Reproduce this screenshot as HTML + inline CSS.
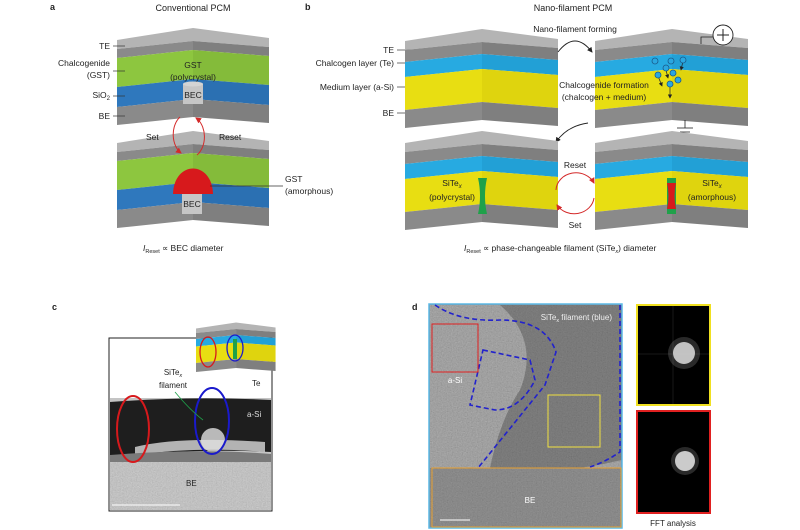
<!DOCTYPE html>
<html><head><meta charset="utf-8"><style>
html,body{margin:0;padding:0;background:#fff;width:800px;height:530px;overflow:hidden}
svg{display:block}
text{font-family:"Liberation Sans",Arial,sans-serif;fill:#222}
</style></head><body>
<svg width="800" height="530" viewBox="0 0 800 530" xmlns="http://www.w3.org/2000/svg">
<defs>
<g id="blkA">
  <polygon points="0,0 0,-9 76,-21 152,-11 152,-2 76,-8" fill="#b4b4b4"/>
  <polygon points="0,0 76,-8 76,1 0,9" fill="#8a8a8a"/>
  <polygon points="0,9 76,1 76,30 0,38" fill="#8dc63f"/>
  <polygon points="0,38 76,30 76,50 0,58" fill="#2f78bd"/>
  <polygon points="0,58 76,50 76,68 0,76" fill="#8a8a8a"/>
  <polygon points="76,-8 152,-2 152,7 76,1" fill="#7f7f7f"/>
  <polygon points="76,1 152,7 152,36 76,30" fill="#84bb3a"/>
  <polygon points="76,30 152,36 152,56 76,50" fill="#2b70b2"/>
  <polygon points="76,50 152,56 152,74 76,68" fill="#7f7f7f"/>
</g>
<g id="blkB">
  <polygon points="0,0 0,-9 77,-21 153,-11 153,-2 77,-8" fill="#b4b4b4"/>
  <polygon points="0,0 77,-8 77,4 0,12" fill="#8a8a8a"/>
  <polygon points="0,12 77,4 77,19 0,27" fill="#27aae1"/>
  <polygon points="0,27 77,19 77,52 0,60" fill="#e8de12"/>
  <polygon points="0,60 77,52 77,70 0,78" fill="#8a8a8a"/>
  <polygon points="77,-8 153,-2 153,10 77,4" fill="#7f7f7f"/>
  <polygon points="77,4 153,10 153,25 77,19" fill="#22a0d6"/>
  <polygon points="77,19 153,25 153,58 77,52" fill="#dfd40e"/>
  <polygon points="77,52 153,58 153,76 77,70" fill="#7f7f7f"/>
</g>
<marker id="ar" markerWidth="6" markerHeight="6" refX="5" refY="3" orient="auto"><path d="M0,0 L6,3 L0,6 z" fill="#222"/></marker>
<marker id="arr" markerWidth="6" markerHeight="6" refX="5" refY="3" orient="auto"><path d="M0,0 L6,3 L0,6 z" fill="#d42a2a"/></marker>
<filter id="nz" x="0" y="0" width="1" height="1" filterUnits="objectBoundingBox">
  <feTurbulence type="fractalNoise" baseFrequency="0.8" numOctaves="2" seed="3" result="t"/>
  <feColorMatrix in="t" type="matrix" values="0.33 0.33 0.33 0 0  0.33 0.33 0.33 0 0  0.33 0.33 0.33 0 0  0 0 0 0 1" result="g"/>
  <feComposite in="g" in2="SourceGraphic" operator="in"/>
</filter>
</defs>

<!-- Panel a -->
<text x="50" y="10" font-size="9" font-weight="bold">a</text>
<text x="193" y="11" font-size="9" text-anchor="middle">Conventional PCM</text>
<use href="#blkA" x="117" y="49"/>
<rect x="183" y="84" width="20" height="20" fill="#c6c6c6"/>
<ellipse cx="193" cy="84" rx="10" ry="2.5" fill="#d4d4d4"/>
<text x="193" y="68" font-size="8.5" text-anchor="middle">GST</text>
<text x="193" y="80" font-size="8.5" text-anchor="middle">(polycrystal)</text>
<text x="193" y="98" font-size="8.5" text-anchor="middle">BEC</text>
<g font-size="8.5" text-anchor="end">
<text x="110" y="49">TE</text>
<text x="110" y="66">Chalcogenide</text>
<text x="110" y="78">(GST)</text>
<text x="110" y="98">SiO<tspan font-size="6" dy="2">2</tspan></text>
<text x="110" y="119">BE</text>
</g>
<g stroke="#333" stroke-width="0.7">
<line x1="113" y1="46" x2="125" y2="46"/><line x1="113" y1="71" x2="125" y2="71"/>
<line x1="113" y1="96" x2="125" y2="96"/><line x1="113" y1="116" x2="125" y2="116"/>
</g>
<use href="#blkA" x="117" y="152"/>
<path d="M173,194 C174,160 212,160 213,194 Z" fill="#d7191c"/>
<rect x="182" y="194" width="20" height="20" fill="#c6c6c6"/>
<text x="192" y="207" font-size="8.5" text-anchor="middle">BEC</text>
<line x1="210" y1="186" x2="283" y2="186" stroke="#333" stroke-width="0.7"/>
<text x="285" y="182" font-size="8.5">GST</text>
<text x="285" y="194" font-size="8.5">(amorphous)</text>
<text x="146" y="140" font-size="8.5">Set</text>
<text x="219" y="140" font-size="8.5">Reset</text>
<path d="M180,117 A15,21 0 0,0 181,153" fill="none" stroke="#d42a2a" stroke-width="1" marker-end="url(#arr)"/>
<path d="M197,155 A15,21 0 0,0 196,118" fill="none" stroke="#d42a2a" stroke-width="1" marker-end="url(#arr)"/>
<text x="143" y="251" font-size="8.5"><tspan font-style="italic">I</tspan><tspan font-size="5.5" dy="2">Reset</tspan><tspan dy="-2"> ∝ BEC diameter</tspan></text>

<!-- Panel b -->
<text x="305" y="10" font-size="9" font-weight="bold">b</text>
<text x="573" y="11" font-size="9" text-anchor="middle">Nano-filament PCM</text>
<text x="575" y="32" font-size="8.5" text-anchor="middle">Nano-filament forming</text>
<g font-size="8.5" text-anchor="end">
<text x="394" y="53">TE</text>
<text x="394" y="66">Chalcogen layer (Te)</text>
<text x="394" y="90">Medium layer (a-Si)</text>
<text x="394" y="116">BE</text>
</g>
<g stroke="#333" stroke-width="0.7">
<line x1="397" y1="50" x2="410" y2="50"/><line x1="397" y1="63" x2="410" y2="63"/>
<line x1="397" y1="87" x2="410" y2="87"/><line x1="397" y1="113" x2="410" y2="113"/>
</g>
<use href="#blkB" x="405" y="50"/>
<use href="#blkB" x="595" y="50"/>
<path d="M558,52 Q575,30 592,52" fill="none" stroke="#222" stroke-width="0.9" marker-end="url(#ar)"/>
<path d="M588,123 Q567,126 556,142" fill="none" stroke="#222" stroke-width="0.9" marker-end="url(#ar)"/>
<text x="604" y="88" font-size="8.5" text-anchor="middle">Chalcogenide formation</text>
<text x="604" y="100" font-size="8.5" text-anchor="middle">(chalcogen + medium)</text>
<g stroke="#222" stroke-width="0.7" marker-end="url(#ar)">
<line x1="666" y1="70" x2="668" y2="78"/><line x1="658" y1="76" x2="662" y2="86"/>
<line x1="670" y1="86" x2="670" y2="98"/><line x1="683" y1="61" x2="681" y2="70"/>
</g>
<g fill="#2aa7e0" stroke="#1b5a8a" stroke-width="0.8">
<circle cx="655" cy="61" r="3"/><circle cx="671" cy="61" r="3"/><circle cx="683" cy="60" r="3"/>
<circle cx="666" cy="68" r="3"/><circle cx="658" cy="75" r="3"/><circle cx="673" cy="73" r="3"/>
<circle cx="678" cy="80" r="3"/><circle cx="670" cy="84" r="3"/>
</g>
<circle cx="723" cy="35" r="10" fill="#fff" stroke="#222" stroke-width="0.9"/>
<line x1="717" y1="35" x2="729" y2="35" stroke="#222"/><line x1="723" y1="29" x2="723" y2="41" stroke="#222"/>
<polyline points="701,44 701,37 713,37" fill="none" stroke="#222" stroke-width="0.8"/>
<g stroke="#222" stroke-width="0.8">
<line x1="685" y1="120" x2="685" y2="128"/><line x1="677" y1="128" x2="693" y2="128"/>
<line x1="680" y1="132" x2="690" y2="132"/><line x1="683" y1="136" x2="687" y2="136"/>
</g>
<use href="#blkB" x="405" y="152"/>
<use href="#blkB" x="595" y="152"/>
<path d="M478,178 L487,178 Q483,196 487,214 L478,214 Q482,196 478,178 Z" fill="#1fa14a"/>
<rect x="667" y="178" width="9" height="36" fill="#1fa14a"/>
<path d="M667,183 L676,183 Q673,196 676,209 L667,209 Q670,196 667,183 Z" fill="#d7191c"/>
<text x="452" y="186" font-size="8.5" text-anchor="middle">SiTe<tspan font-size="6" dy="2" font-style="italic">x</tspan></text>
<text x="452" y="200" font-size="8.5" text-anchor="middle">(polycrystal)</text>
<text x="712" y="186" font-size="8.5" text-anchor="middle">SiTe<tspan font-size="6" dy="2" font-style="italic">x</tspan></text>
<text x="712" y="200" font-size="8.5" text-anchor="middle">(amorphous)</text>
<text x="575" y="168" font-size="8.5" text-anchor="middle">Reset</text>
<text x="575" y="228" font-size="8.5" text-anchor="middle">Set</text>
<path d="M556,190 A20,18 0 0,1 594,183" fill="none" stroke="#d42a2a" stroke-width="1" marker-end="url(#arr)"/>
<path d="M594,198 A20,18 0 0,1 557,205" fill="none" stroke="#d42a2a" stroke-width="1" marker-end="url(#arr)"/>
<text x="464" y="251" font-size="8.5"><tspan font-style="italic">I</tspan><tspan font-size="5.5" dy="2">Reset</tspan><tspan dy="-2"> ∝ phase-changeable filament (SiTe</tspan><tspan font-size="5.5" dy="2" font-style="italic">x</tspan><tspan dy="-2">) diameter</tspan></text>

<!-- Panel c -->
<text x="52" y="310" font-size="9" font-weight="bold">c</text>
<rect x="109" y="338" width="163" height="173" fill="#fff" stroke="#222" stroke-width="1"/>
<rect x="110" y="398" width="161" height="112" fill="#c4c4c4"/>
<rect x="110" y="458" width="161" height="52" fill="#000" filter="url(#nz)" opacity="0.35"/>
<path d="M110,402 Q190,396 271,400 L271,452 Q200,448 110,457 Z" fill="#1e1e1e"/>
<path d="M135,447 Q180,436 265,442 L265,452 Q200,446 135,455 Z" fill="#d8d8d8" opacity="0.8"/>
<ellipse cx="213" cy="440" rx="12" ry="12" fill="#e0e0e0" opacity="0.8"/>
<path d="M110,455 Q200,448 271,454 L271,462 L110,462 Z" fill="#7a7a7a"/>
<line x1="112" y1="505" x2="180" y2="505" stroke="#fff" stroke-width="1"/>
<ellipse cx="133" cy="429" rx="16" ry="33" fill="none" stroke="#d7191c" stroke-width="2"/>
<ellipse cx="212" cy="421" rx="17" ry="33" fill="none" stroke="#1a1acc" stroke-width="2"/>
<path d="M175,392 Q190,410 203,420" fill="none" stroke="#1fa14a" stroke-width="0.8"/>
<text x="173" y="375" font-size="8" text-anchor="middle">SiTe<tspan font-size="5.5" dy="2" font-style="italic">x</tspan></text>
<text x="173" y="388" font-size="8" text-anchor="middle">filament</text>
<text x="252" y="386" font-size="8">Te</text>
<text x="247" y="417" font-size="8" style="fill:#ddd">a-Si</text>
<text x="186" y="486" font-size="8">BE</text>
<g transform="translate(196,333) scale(0.52,0.5)">
<use href="#blkB" x="0" y="0"/>
</g>
<rect x="233" y="339" width="4" height="20" fill="#1fa14a"/>
<ellipse cx="208" cy="352" rx="8" ry="15" fill="none" stroke="#d7191c" stroke-width="1.3"/>
<ellipse cx="235" cy="348" rx="8" ry="13" fill="none" stroke="#1a1acc" stroke-width="1.3"/>

<!-- Panel d -->
<text x="412" y="310" font-size="9" font-weight="bold">d</text>
<rect x="429" y="304" width="193" height="224" fill="#8a8a8a"/>
<rect x="430" y="305" width="191" height="222" fill="#000" filter="url(#nz)" opacity="0.55"/>
<rect x="430" y="305" width="191" height="222" fill="#999" opacity="0.35"/>
<path d="M500,305 L622,305 L622,460 Q600,465 580,468 L490,468 Q500,420 520,390 Q540,340 500,305 Z" fill="#333" opacity="0.35"/>
<rect x="430" y="468" width="191" height="59" fill="#444" opacity="0.25"/>
<rect x="429" y="304" width="193" height="224" fill="none" stroke="#5ab8e6" stroke-width="1.5"/>
<path d="M435,305 Q460,322 500,320 Q545,320 556,352 L545,385 L478,468" fill="none" stroke="#2222cc" stroke-width="1.6" stroke-dasharray="5,3"/>
<path d="M620,305 L620,452 Q605,462 590,467" fill="none" stroke="#2222cc" stroke-width="1.6" stroke-dasharray="5,3"/>
<path d="M483,350 L530,360 L535,380 Q520,410 495,410 L470,405 Z" fill="none" stroke="#2222cc" stroke-width="1.6" stroke-dasharray="5,3"/>
<rect x="432" y="324" width="46" height="48" fill="none" stroke="#e02020" stroke-width="1"/>
<rect x="548" y="395" width="52" height="52" fill="none" stroke="#f0e040" stroke-width="1"/>
<rect x="432" y="468" width="189" height="59" fill="none" stroke="#e8a030" stroke-width="1"/>
<text x="612" y="320" font-size="8" text-anchor="end" style="fill:#eee">SiTe<tspan font-size="5.5" dy="2">x</tspan><tspan dy="-2"> filament (blue)</tspan></text>
<text x="455" y="383" font-size="8" text-anchor="middle" style="fill:#fff">a-Si</text>
<text x="530" y="503" font-size="8" text-anchor="middle" style="fill:#fff">BE</text>
<line x1="440" y1="520" x2="470" y2="520" stroke="#fff" stroke-width="1"/>
<rect x="637" y="305" width="73" height="100" fill="#000" stroke="#f0e020" stroke-width="2"/>
<line x1="638" y1="354" x2="709" y2="354" stroke="#333" stroke-width="0.5"/>
<line x1="673" y1="306" x2="673" y2="404" stroke="#333" stroke-width="0.5"/>
<circle cx="684" cy="353" r="16" fill="#888" opacity="0.3"/>
<circle cx="684" cy="353" r="11" fill="#ddd" opacity="0.85"/>
<rect x="637" y="411" width="73" height="102" fill="#000" stroke="#e02020" stroke-width="2"/>
<circle cx="685" cy="461" r="14" fill="#888" opacity="0.3"/>
<circle cx="685" cy="461" r="10" fill="#ddd" opacity="0.9"/>
<text x="673" y="526" font-size="8" text-anchor="middle">FFT analysis</text>
</svg>
</body></html>
